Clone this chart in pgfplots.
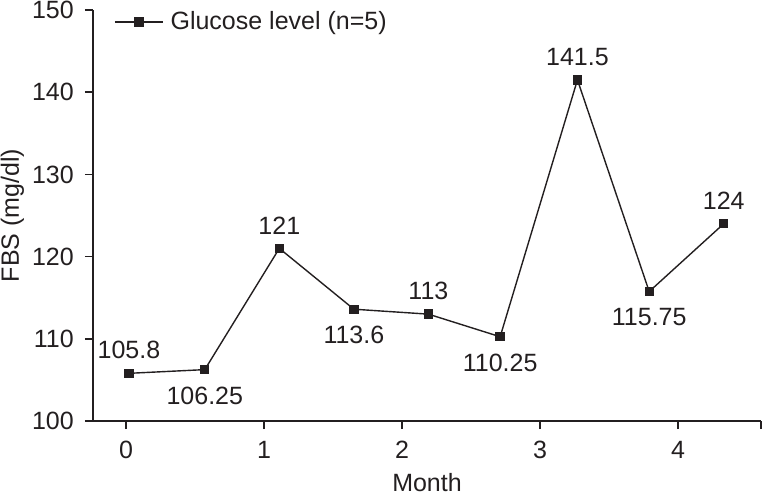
\documentclass[border=0pt]{standalone}
\usepackage{pgfplots}
\pgfplotsset{compat=1.18}
\usepackage{pgfplotstable}
\usepackage{fontspec}
\setmainfont{Liberation Sans}

\definecolor{ink}{RGB}{35,31,32}

% month, FBS
\pgfplotstableread{
x     y      lbl
0.02  105.8  105.8
0.57  106.25 106.25
1.11  121    121
1.65  113.6  113.6
2.19  113    113
2.71  110.25 110.25
3.27  141.5  141.5
3.79  115.75 115.75
4.33  124    124
}\fbs
% labels set above the point
\pgfplotstableread{
x     y      lbl
0.02  105.8  105.8
1.11  121    121
2.19  113    113
3.27  141.5  141.5
4.33  124    124
}\above
% labels set below the point
\pgfplotstableread{
x     y      lbl
0.57  106.25 106.25
1.65  113.6  113.6
2.71  110.25 110.25
3.79  115.75 115.75
}\below

\begin{document}
\fontsize{25bp}{30bp}\selectfont
\begin{tikzpicture}
\path[use as bounding box] (-93bp,-75bp) rectangle (669bp,421bp);
\begin{axis}[
    scale only axis,
    width=668bp, height=411bp,
    xmin=-0.24, xmax=4.6,
    ymin=100, ymax=150,
    xtick={0,1,2,3,4},
    extra x ticks={4.6},
    extra x tick labels={},
    ytick={100,110,...,150},
    axis x line*=bottom,
    axis y line*=left,
    axis line style={ink, line width=1.6bp, -},
    tick style={ink, line width=1.6bp},
    tick align=outside,
    major tick length=8bp,
    /pgf/number format/assume math mode=true,
    ticklabel style={text=ink},
    xticklabel style={anchor=north, inner sep=0pt, yshift=-12bp},
    yticklabel style={anchor=east, inner sep=0pt, xshift=-11bp},
    xlabel={Month},
    ylabel={FBS (mg/dl)},
    xlabel style={at={([yshift=-70bp]axis description cs:0.5,0)}, anchor=base, inner sep=0pt, text=ink},
    ylabel style={at={([xshift=-74bp]axis description cs:0,0.5)}, anchor=base, inner sep=0pt, text=ink},
    legend style={draw=none, fill=none, inner sep=0pt, text=ink,
        nodes={inner xsep=7bp, inner ysep=0pt},
        at={([xshift=21bp,yshift=-12bp]axis description cs:0,1)}, anchor=west,
        legend cell align=left},
    legend image code/.code={
        \draw[mark repeat=2, mark phase=2, #1] plot coordinates {(0bp,0bp) (24bp,0bp) (48bp,0bp)};
    },
    clip=false,
]
\addplot[ink, line width=1.4bp, mark=square*, mark size=4.2bp,
    mark options={solid, fill=ink, draw=ink, line width=0pt},
] table[x=x, y=y] {\fbs};
\addlegendentry{Glucose level (n=5)}

\addplot[forget plot, draw=none, mark=none,
    point meta=explicit symbolic, nodes near coords,
    nodes near coords style={anchor=south, yshift=14bp, inner sep=0pt, text=ink},
] table[x=x, y=y, meta=lbl] {\above};
\addplot[forget plot, draw=none, mark=none,
    point meta=explicit symbolic, nodes near coords,
    nodes near coords style={anchor=north, yshift=-17bp, inner sep=0pt, text=ink},
] table[x=x, y=y, meta=lbl] {\below};
\end{axis}
\end{tikzpicture}
\end{document}
